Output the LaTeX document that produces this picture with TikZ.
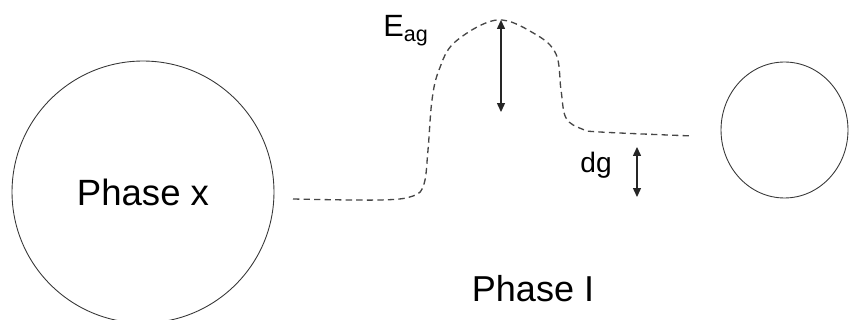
\documentclass[tikz,border=0pt]{standalone}
\usepackage{fontspec}
\setmainfont{Liberation Sans}
\usetikzlibrary{arrows.meta,shapes.geometric}
\definecolor{rimgray}{RGB}{55,55,55}
\definecolor{curvegray}{RGB}{70,70,70}

\begin{document}
\begin{tikzpicture}[
  x=0.02cm,
  y=-0.02cm,
  phase/.style={
    draw=rimgray,
    ellipse,
    line width=0.5pt,
    inner sep=0pt
  },
  annot/.style={
    inner sep=0pt,
    font=\fontsize{20.5}{24}\selectfont
  },
  gap/.style={
    draw=black!85,
    line width=0.6pt,
    {Triangle[length=5pt,width=4.5pt]}-{Triangle[length=5pt,width=4.5pt]}
  },
  profile/.style={
    draw=curvegray,
    line width=0.75pt,
    dash pattern=on 3.6pt off 2.4pt
  }
]
\useasboundingbox (0,0) rectangle (849,320);
\node[phase,minimum width=5.24cm,minimum height=5.24cm,font=\fontsize{20.8}{24}\selectfont] (phasex) at (143,192) {Phase x};
\node[phase,minimum width=2.54cm,minimum height=2.72cm] (phaseright) at (784.5,130) {};
\draw[profile] plot[smooth,tension=0.6] coordinates {
  (293,199) (380,200) (413,196) (424,184) (428,150) (432,100) (439,70)
  (455,42) (497,20) (535,34) (556,54) (561,90) (566,118)
  (582,129) (600,132) (693,136)};
\coordinate (eagtop) at (501,20);
\coordinate (eagbot) at (501,112);
\coordinate (dgtop) at (637,147);
\coordinate (dgbot) at (637,197);
\draw[gap] (eagtop) -- (eagbot);
\draw[gap] (dgtop) -- (dgbot);
\node[annot,font=\fontsize{17.5}{20}\selectfont,anchor=base west] (eag) at (383,37) {E\textsubscript{ag}};
\node[annot,font=\fontsize{16}{19}\selectfont,anchor=base] (dg) at (596,173) {dg};
\node[annot,anchor=base] (phasel) at (533,302) {Phase I};
\end{tikzpicture}
\end{document}
